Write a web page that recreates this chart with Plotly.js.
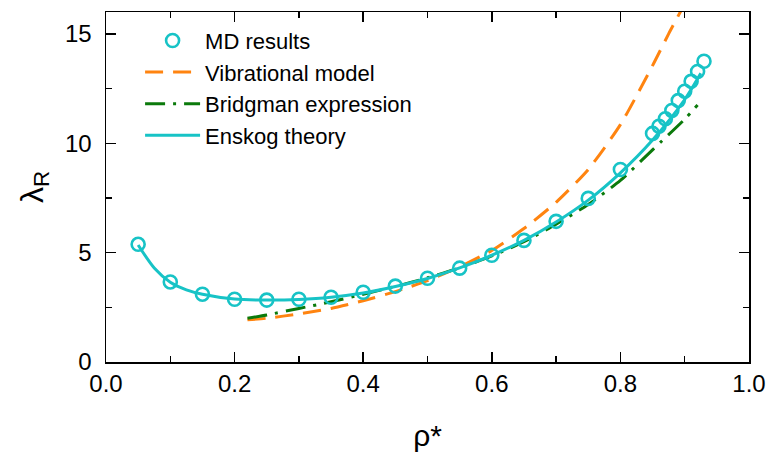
<!DOCTYPE html>
<html>
<head>
<meta charset="utf-8">
<script src="https://cdn.plot.ly/plotly-3.0.1.min.js"></script>
<style>html,body{margin:0;padding:0;background:#fff;}#chart{width:769px;height:460px;}</style>
</head>
<body>
<div id="chart"></div>
<script>
// MD results
const mdRho = [0.05,0.10,0.15,0.20,0.25,0.30,0.35,0.40,0.45,0.50,0.55,0.60,0.65,0.70,0.75,0.80,0.85,0.86,0.87,0.88,0.89,0.90,0.91,0.92,0.93];
const mdLambda = [5.38,3.66,3.10,2.87,2.83,2.87,2.96,3.19,3.47,3.83,4.29,4.88,5.56,6.43,7.48,8.80,10.45,10.78,11.12,11.50,11.95,12.38,12.83,13.28,13.75];

// Vibrational model
const vibRho = [0.22,0.25,0.30,0.35,0.40,0.45,0.50,0.55,0.60,0.65,0.70,0.75,0.80,0.85,0.875,0.895];
const vibLambda = [1.93,2.00,2.20,2.45,2.80,3.22,3.72,4.35,5.10,6.10,7.30,8.80,10.85,13.55,15.0,16.1];

// Bridgman expression
const briRho = [0.22,0.25,0.30,0.35,0.40,0.45,0.50,0.55,0.60,0.65,0.70,0.75,0.80,0.85,0.90,0.92];
const briLambda = [2.00,2.15,2.45,2.75,3.10,3.45,3.85,4.30,4.85,5.50,6.30,7.20,8.30,9.70,11.10,11.75];

// Enskog theory
const ensRho = [0.05,0.075,0.10,0.125,0.15,0.20,0.25,0.30,0.35,0.40,0.45,0.50,0.55,0.60,0.65,0.70,0.75,0.80,0.85,0.90,0.925];
const ensLambda = [5.35,4.30,3.65,3.30,3.10,2.88,2.83,2.86,2.96,3.15,3.45,3.82,4.30,4.88,5.56,6.40,7.40,8.65,10.15,12.00,13.20];

const names = ["MD results","Vibrational model","Bridgman expression","Enskog theory"];
const cyan = "#17C3C6", orange = "#FF8410", green = "#0B7A0B";
const fontFam = "Liberation Sans, Arial, sans-serif";

const mdTrace = {x: mdRho, y: mdLambda, name: names[0], mode: "markers", type: "scatter",
   legendrank: 1,
   marker: {symbol: "circle-open", size: 13, color: cyan, line: {width: 2.6, color: cyan}}};
const vibTrace = {x: vibRho, y: vibLambda, name: names[1], mode: "lines", type: "scatter",
   legendrank: 2,
   line: {color: orange, width: 3, dash: "18px,10px", shape: "spline", smoothing: 0.6}};
const briTrace = {x: briRho, y: briLambda, name: names[2], mode: "lines", type: "scatter",
   legendrank: 3,
   line: {color: green, width: 3, dash: "20px,8px,3px,8px", shape: "spline", smoothing: 0.6}};
const ensTrace = {x: ensRho, y: ensLambda, name: names[3], mode: "lines", type: "scatter",
   legendrank: 4,
   line: {color: cyan, width: 3, shape: "spline", smoothing: 0.8}};
// markers drawn on top
const data = [vibTrace, briTrace, ensTrace, mdTrace];

const axisCommon = {
  showgrid: false, zeroline: false, showline: true, linecolor: "#000", linewidth: 1.5,
  mirror: "allticks", ticks: "inside", ticklen: 10, tickwidth: 1.5, tickcolor: "#000",
  tickfont: {family: fontFam, size: 24, color: "#000"}
};

const layout = {
  width: 769, height: 460,
  margin: {l: 106, r: 20, t: 12, b: 98},
  paper_bgcolor: "#fff", plot_bgcolor: "#fff",
  showlegend: true,
  legend: {x: 0.053, y: 0.978, xanchor: "left", yanchor: "top", bgcolor: "rgba(0,0,0,0)",
           traceorder: "normal", itemwidth: 55,
           font: {family: fontFam, size: 22, color: "#000"}},
  xaxis: Object.assign({}, axisCommon, {
    range: [0, 1], tickvals: [0,0.2,0.4,0.6,0.8,1.0], ticktext: ["0.0","0.2","0.4","0.6","0.8","1.0"],
    ticklabelstandoff: 0,
    minor: {dtick: 0.1, ticks: "inside", ticklen: 6, tickwidth: 1.5, tickcolor: "#000"},
    title: {text: "ρ*", standoff: 28, font: {family: fontFam, size: 30, color: "#000"}}
  }),
  yaxis: Object.assign({}, axisCommon, {
    range: [0, 16], tickvals: [0,5,10,15], ticklabelstandoff: 8,
    minor: {dtick: 2.5, ticks: "inside", ticklen: 6, tickwidth: 1.5, tickcolor: "#000"},
    title: {text: "λ<sub>R</sub>", standoff: 12, font: {family: fontFam, size: 32, color: "#000"}}
  })
};

Plotly.newPlot("chart", data, layout, {displayModeBar: false, staticPlot: true});
</script>
</body>
</html>
